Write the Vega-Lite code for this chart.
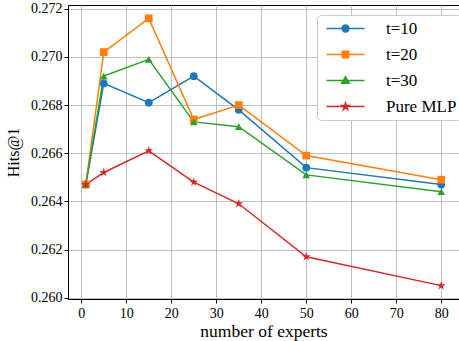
{
  "$schema": "https://vega.github.io/schema/vega-lite/v6.json",
  "width": 391,
  "height": 294,
  "autosize": {"type": "none"},
  "padding": {"left": 68, "top": 5, "right": 0, "bottom": 42},
  "background": "white",
  "config": {
    "font": "Liberation Serif",
    "view": {"stroke": "black", "strokeWidth": 1},
    "axis": {
      "labelFont": "Liberation Serif",
      "titleFont": "Liberation Serif",
      "labelFontSize": 14,
      "titleFontSize": 17,
      "titleFontWeight": "normal",
      "labelColor": "black",
      "titleColor": "black",
      "domainColor": "black",
      "tickColor": "black",
      "tickSize": 4,
      "gridColor": "#b0b0b0",
      "gridWidth": 0.8
    },
    "legend": {
      "labelFont": "Liberation Serif",
      "labelFontSize": 17,
      "labelColor": "black"
    }
  },
  "data": {
    "values": [
      {"series": "t=10", "experts": 1, "hits": 0.2647},
      {"series": "t=10", "experts": 5, "hits": 0.2689},
      {"series": "t=10", "experts": 15, "hits": 0.2681},
      {"series": "t=10", "experts": 25, "hits": 0.2692},
      {"series": "t=10", "experts": 35, "hits": 0.2678},
      {"series": "t=10", "experts": 50, "hits": 0.2654},
      {"series": "t=10", "experts": 80, "hits": 0.2647},
      {"series": "t=20", "experts": 1, "hits": 0.2647},
      {"series": "t=20", "experts": 5, "hits": 0.2702},
      {"series": "t=20", "experts": 15, "hits": 0.2716},
      {"series": "t=20", "experts": 25, "hits": 0.2674},
      {"series": "t=20", "experts": 35, "hits": 0.2680},
      {"series": "t=20", "experts": 50, "hits": 0.2659},
      {"series": "t=20", "experts": 80, "hits": 0.2649},
      {"series": "t=30", "experts": 1, "hits": 0.2647},
      {"series": "t=30", "experts": 5, "hits": 0.2692},
      {"series": "t=30", "experts": 15, "hits": 0.2699},
      {"series": "t=30", "experts": 25, "hits": 0.2673},
      {"series": "t=30", "experts": 35, "hits": 0.2671},
      {"series": "t=30", "experts": 50, "hits": 0.2651},
      {"series": "t=30", "experts": 80, "hits": 0.2644},
      {"series": "Pure MLP", "experts": 1, "hits": 0.2647},
      {"series": "Pure MLP", "experts": 5, "hits": 0.2652},
      {"series": "Pure MLP", "experts": 15, "hits": 0.2661},
      {"series": "Pure MLP", "experts": 25, "hits": 0.2648},
      {"series": "Pure MLP", "experts": 35, "hits": 0.2639},
      {"series": "Pure MLP", "experts": 50, "hits": 0.2617},
      {"series": "Pure MLP", "experts": 80, "hits": 0.2605}
    ]
  },
  "encoding": {
    "x": {
      "field": "experts", "type": "quantitative",
      "scale": {"domain": [-2.95, 83.95], "nice": false, "zero": false},
      "axis": {"values": [0,10,20,30,40,50,60,70,80], "title": "number of experts", "titlePadding": 2,
        "titleFontSize": 17.5, "labelFont": "Liberation Serif", "titleFont": "Liberation Serif", "labelPadding": 3}
    },
    "y": {
      "field": "hits", "type": "quantitative",
      "scale": {"domain": [0.259945, 0.272155], "nice": false, "zero": false},
      "axis": {"values": [0.260,0.262,0.264,0.266,0.268,0.270,0.272], "format": ".3f", "title": "Hits@1", "titlePadding": 9,
        "titleFontSize": 16, "labelFont": "Liberation Serif", "titleFont": "Liberation Serif"}
    },
    "color": {
      "field": "series", "type": "nominal",
      "scale": {"domain": ["t=10","t=20","t=30","Pure MLP"], "range": ["#1f77b4","#ff7f0e","#2ca02c","#d62728"]},
      "legend": null
    },
    "order": {"field": "experts", "type": "quantitative"}
  },
  "resolve": {"scale": {"shape": "independent"}, "legend": {"shape": "independent"}},
  "layer": [
    {"mark": {"type": "line", "strokeWidth": 1.5}},
    {
      "mark": {"type": "point", "filled": true, "opacity": 1, "size": 60},
      "encoding": {
        "shape": {
          "field": "series", "type": "nominal",
          "scale": {"domain": ["t=10","t=20","t=30","Pure MLP"], "range": ["circle","square","triangle-up","M0,-1.2L0.27,-0.37L1.14,-0.37L0.436,0.142L0.706,0.971L0,0.458L-0.706,0.971L-0.436,0.142L-1.14,-0.37L-0.27,-0.37Z"]},
          "legend": null
        }
      }
    },
    {
      "mark": {"type": "point", "filled": true, "opacity": 0, "size": 64},
      "encoding": {
        "shape": {
          "field": "series", "type": "nominal",
          "scale": {"domain": ["t=10","t=20","t=30","Pure MLP"], "range": [
            "M-4.75,0H4.75M0.85,0A0.85,0.85,0,1,1,-0.85,0A0.85,0.85,0,1,1,0.85,0Z",
            "M-4.75,0H4.75M-0.8,-0.8H0.8V0.8H-0.8Z",
            "M-4.75,0H4.75M0,-0.95L0.95,0.7H-0.95Z",
            "M-4.75,0H4.75M0,-0.9L0.2,-0.28L0.855,-0.28L0.327,0.106L0.53,0.73L0,0.344L-0.53,0.73L-0.327,0.106L-0.855,-0.28L-0.2,-0.28Z"
          ]},
          "legend": {
            "title": null, "orient": "none", "legendX": 249, "legendY": 10,
            "fillColor": "white", "strokeColor": "#cccccc", "cornerRadius": 4,
            "padding": 5, "rowPadding": 8, "symbolSize": 64, "labelOffset": 32, "symbolOffset": 15,
            "labelLimit": 200,
            "symbolStrokeWidth": 1.5,
            "symbolOpacity": 1,
            "symbolStrokeColor": {"expr": "scale('color', datum.value)"},
            "symbolFillColor": {"expr": "scale('color', datum.value)"},
            "labelFont": "Liberation Serif"
          }
        }
      }
    }
  ]
}
